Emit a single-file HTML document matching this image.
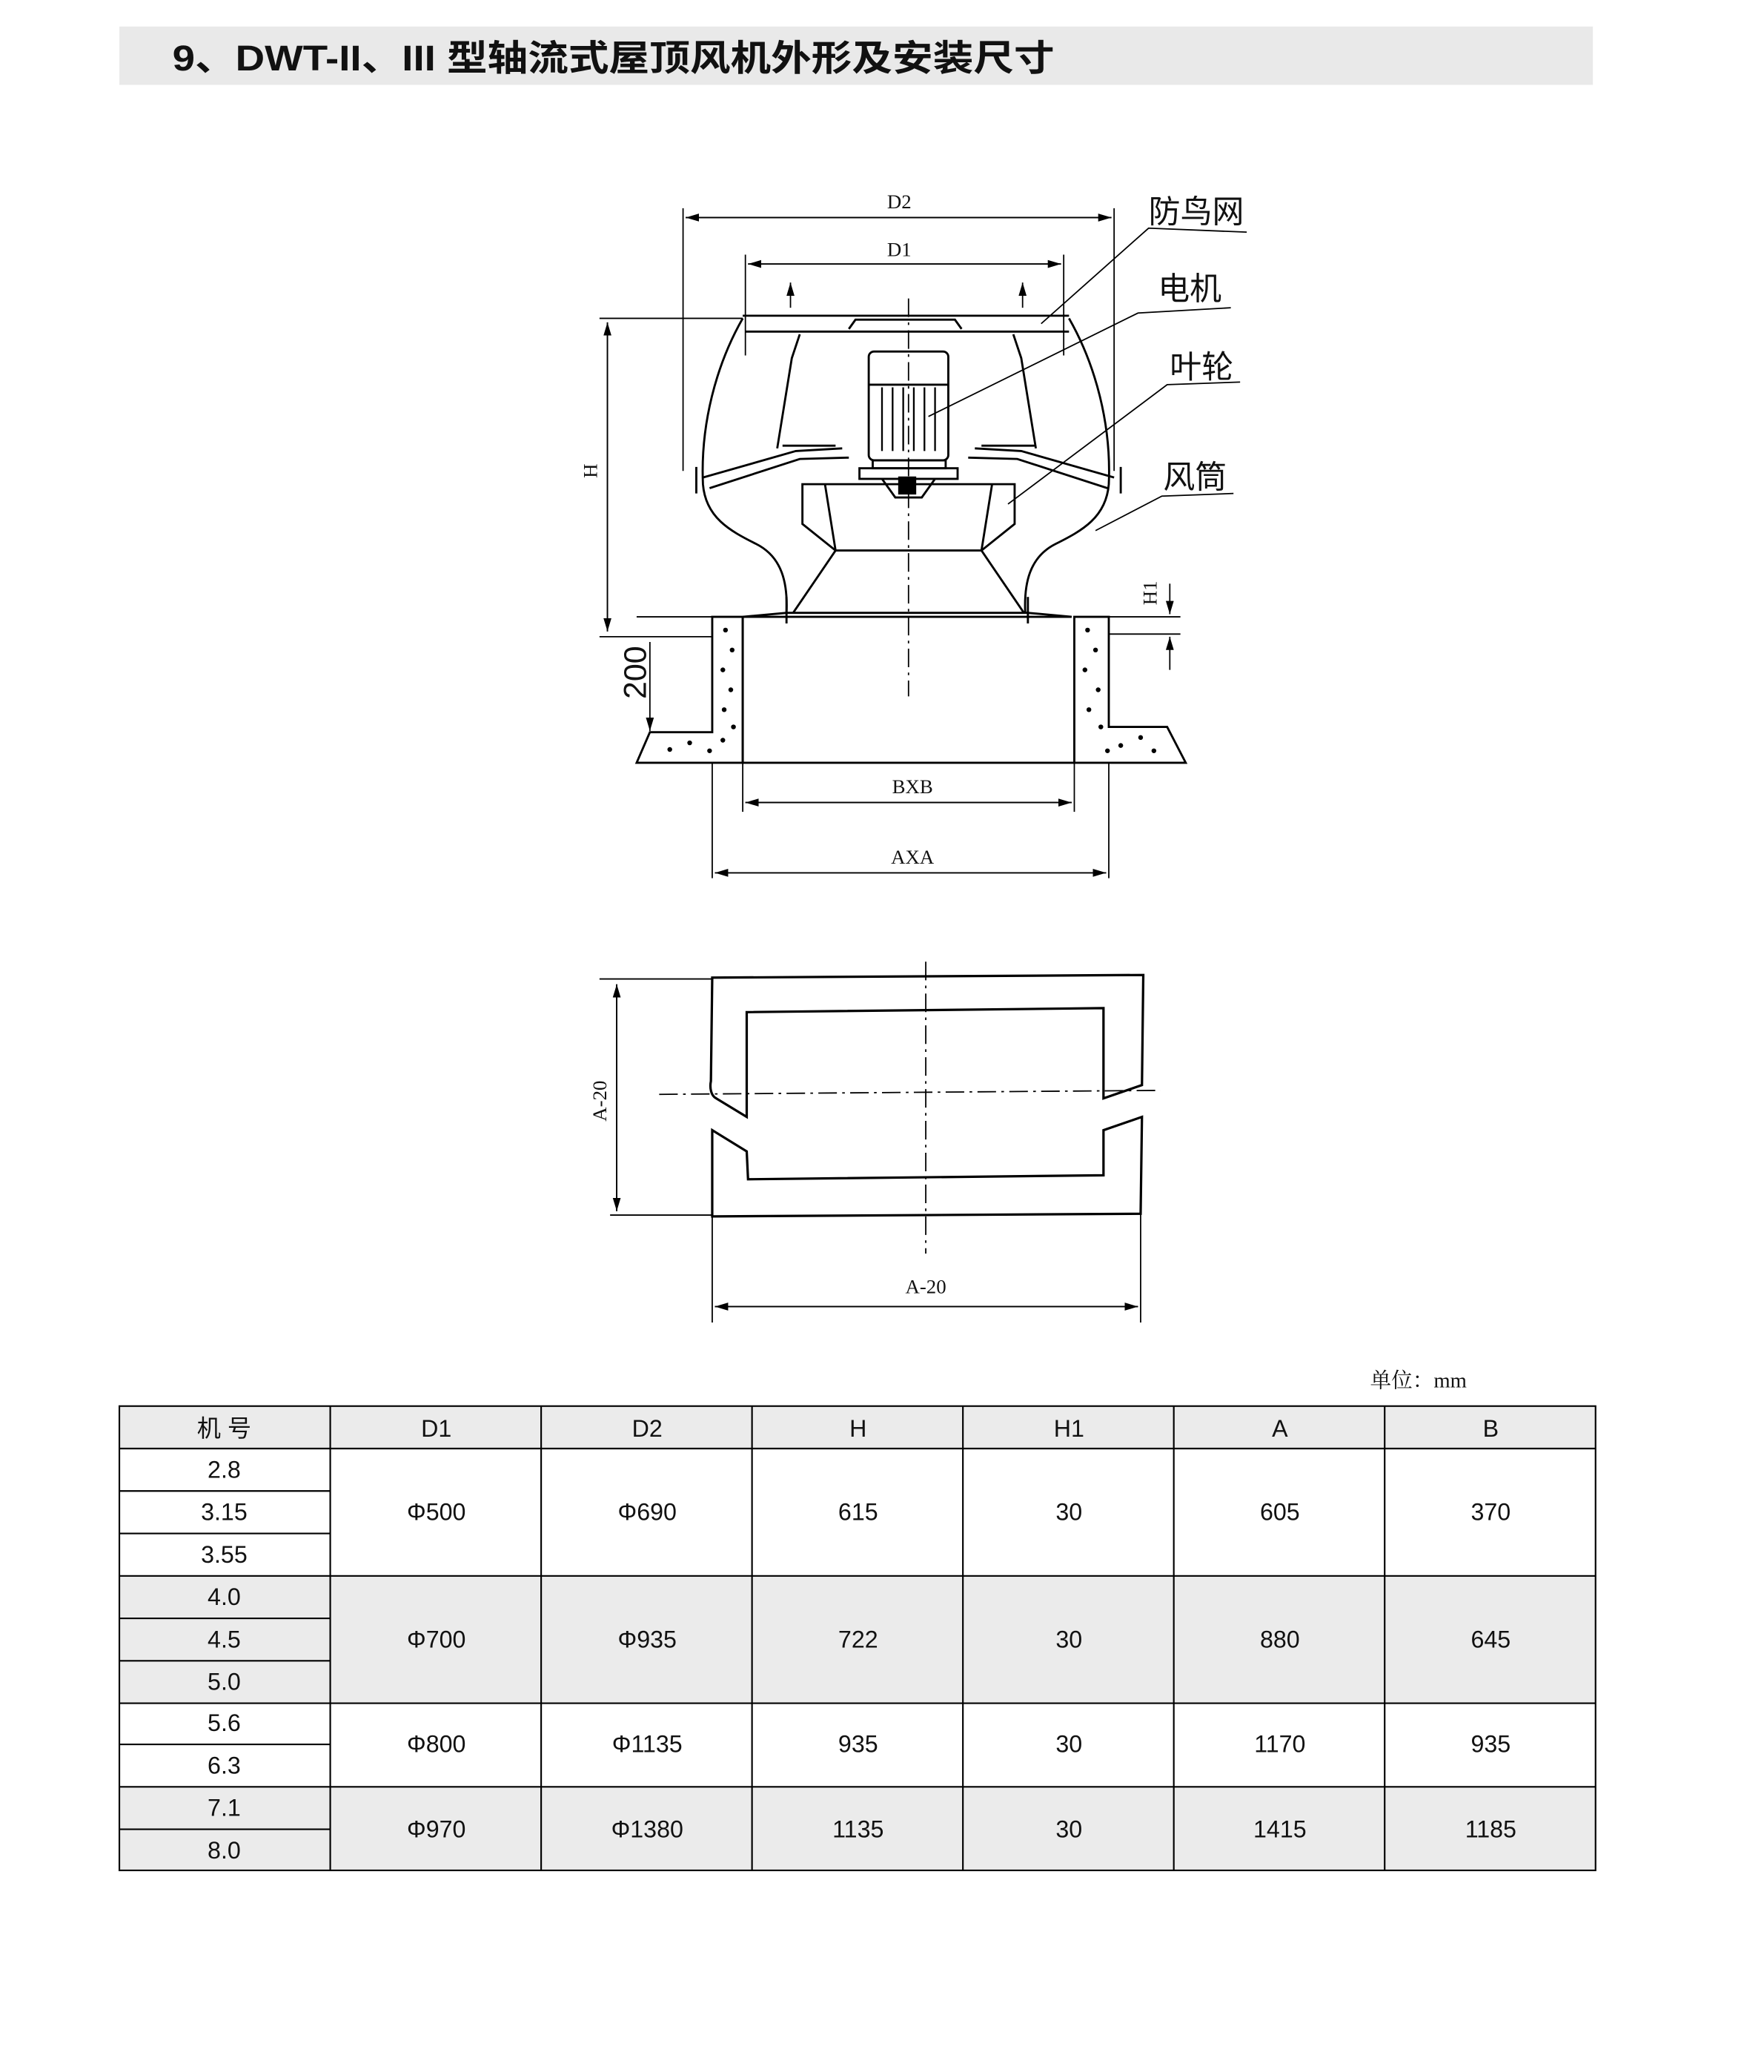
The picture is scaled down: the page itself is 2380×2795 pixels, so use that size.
<!DOCTYPE html>
<html><head><meta charset="utf-8"><style>
html,body{margin:0;padding:0;background:#fff;}
svg{display:block}
.cn{font-family:"Liberation Sans","Noto Sans CJK SC",sans-serif;}
.sr{font-family:"Liberation Serif","Noto Serif CJK SC",serif;}
</style></head><body>
<svg width="2380" height="2795" viewBox="0 0 1330 1562" preserveAspectRatio="none" xmlns="http://www.w3.org/2000/svg">
<defs>
<marker id="ar" markerWidth="10" markerHeight="6" refX="10" refY="3" orient="auto" markerUnits="userSpaceOnUse"><path d="M0,0 L10,3 L0,6 Z" fill="#000"/></marker>
</defs>
<rect x="90" y="20" width="1111" height="44" fill="#e9e9e9"/>
<text x="130" y="53" class="cn" font-size="27" font-weight="bold" fill="#111" textLength="665" lengthAdjust="spacingAndGlyphs">9、DWT-II、III 型轴流式屋顶风机外形及安装尺寸</text>

<g fill="none" stroke="#000" stroke-width="1.6">
<line x1="515" y1="157" x2="515" y2="355" stroke-width="1"/>
<line x1="840" y1="157" x2="840" y2="355" stroke-width="1"/>
<line x1="517" y1="164" x2="838" y2="164" stroke-width="1" marker-end="url(#ar)"/>
<line x1="838" y1="164" x2="517" y2="164" stroke-width="1" marker-end="url(#ar)"/>
<line x1="562" y1="192" x2="562" y2="268" stroke-width="1"/>
<line x1="802" y1="192" x2="802" y2="268" stroke-width="1"/>
<line x1="564" y1="199" x2="800" y2="199" stroke-width="1" marker-end="url(#ar)"/>
<line x1="800" y1="199" x2="564" y2="199" stroke-width="1" marker-end="url(#ar)"/>
<line x1="596" y1="232" x2="596" y2="213" stroke-width="1" marker-end="url(#ar)"/>
<line x1="771" y1="232" x2="771" y2="213" stroke-width="1" marker-end="url(#ar)"/>
<line x1="452" y1="240" x2="560" y2="240" stroke-width="1"/>
<line x1="458" y1="243" x2="458" y2="476" stroke-width="1" marker-end="url(#ar)"/>
<line x1="458" y1="476" x2="458" y2="243" stroke-width="1" marker-end="url(#ar)"/>
<line x1="452" y1="480" x2="537" y2="480" stroke-width="1"/>
<line x1="480" y1="465" x2="562" y2="465" stroke-width="1"/>
<line x1="490" y1="484" x2="490" y2="551" stroke-width="1" marker-end="url(#ar)"/>
<path d="M560,238 L806,238 M562,250 L806,250 M640,248 L645,241 L720,241 L725,248"/>
<path d="M560,240 C540,275 528,320 530,365 C532,390 550,400 570,410 C590,420 594,440 593,462"/>
<path d="M806,240 C826,275 838,320 836,365 C834,390 816,400 796,410 C776,420 772,440 773,462"/>
<path d="M593,462 L560,465 L808,465 L775,462 Z M593,462 L773,462"/>
<line x1="593" y1="450" x2="593" y2="470"/>
<line x1="775" y1="450" x2="775" y2="470"/>
<path d="M603,252 L597,270 L586,338 M764,252 L770,270 L781,338"/>
<rect x="655" y="265" width="60" height="82" rx="4"/>
<line x1="655" y1="290" x2="715" y2="290"/>
<path d="M665,292 V340 M673,292 V340 M681,292 V340 M689,292 V340 M697,292 V340 M705,292 V340" stroke-width="1.3"/>
<rect x="658" y="347" width="55" height="6"/>
<rect x="648" y="353" width="74" height="8"/>
<path d="M665,361 L675,375 L695,375 L705,361" />
<rect x="678" y="360" width="12" height="12" fill="#000"/>
<path d="M530,360 L600,340 L635,338 M535,368 L603,346 L640,345 M590,336 L630,336" />
<path d="M840,360 L770,340 L735,338 M835,368 L767,346 L730,345 M780,336 L740,336"/>
<path d="M525,352 V372 M845,352 V372"/>
<path d="M605,365 L765,365 L765,395 L740,415 L630,415 L605,395 Z M622,365 L630,415 M748,365 L740,415"/>
<path d="M630,415 L598,462 M740,415 L772,462"/>
<!-- curb -->
<path d="M560,465 L537,465 L537,552 L490,552 L480,575 L560,575 Z"/>
<path d="M560,465 V575"/>
<path d="M810,575 L810,465 L836,465 L836,548 L880,548 L894,575 Z"/>
<line x1="560" y1="575" x2="810" y2="575"/>
<line x1="537" y1="575" x2="537" y2="662" stroke-width="1"/>
<line x1="836" y1="575" x2="836" y2="662" stroke-width="1"/>
<line x1="560" y1="575" x2="560" y2="612" stroke-width="1"/>
<line x1="810" y1="575" x2="810" y2="612" stroke-width="1"/>
<line x1="562" y1="605" x2="808" y2="605" stroke-width="1" marker-end="url(#ar)"/>
<line x1="808" y1="605" x2="562" y2="605" stroke-width="1" marker-end="url(#ar)"/>
<line x1="539" y1="658" x2="834" y2="658" stroke-width="1" marker-end="url(#ar)"/>
<line x1="834" y1="658" x2="539" y2="658" stroke-width="1" marker-end="url(#ar)"/>
<line x1="836" y1="465" x2="890" y2="465" stroke-width="1"/>
<line x1="836" y1="478" x2="890" y2="478" stroke-width="1"/>
<line x1="882" y1="440" x2="882" y2="463" stroke-width="1" marker-end="url(#ar)"/>
<line x1="882" y1="505" x2="882" y2="480" stroke-width="1" marker-end="url(#ar)"/>
<path d="M940,175 L866,172 L785,244" stroke-width="1"/>
<path d="M928,232 L858,236 L700,314" stroke-width="1"/>
<path d="M935,288 L880,290 L760,380" stroke-width="1"/>
<path d="M930,372 L876,374 L826,400" stroke-width="1"/>
<line x1="685" y1="225" x2="685" y2="525" stroke-width="1" stroke-dasharray="14,4,2,4"/>
</g>
<g fill="#000">
<circle cx="547" cy="475" r="1.8"/><circle cx="552" cy="490" r="1.8"/><circle cx="545" cy="505" r="1.8"/><circle cx="551" cy="520" r="1.8"/><circle cx="546" cy="535" r="1.8"/><circle cx="553" cy="548" r="1.8"/><circle cx="505" cy="565" r="1.8"/><circle cx="520" cy="560" r="1.8"/><circle cx="535" cy="566" r="1.8"/><circle cx="545" cy="558" r="1.8"/>
<circle cx="820" cy="475" r="1.8"/><circle cx="826" cy="490" r="1.8"/><circle cx="818" cy="505" r="1.8"/><circle cx="828" cy="520" r="1.8"/><circle cx="821" cy="535" r="1.8"/><circle cx="830" cy="548" r="1.8"/><circle cx="845" cy="562" r="1.8"/><circle cx="860" cy="556" r="1.8"/><circle cx="870" cy="566" r="1.8"/><circle cx="835" cy="566" r="1.8"/>
</g>
<g class="sr" font-size="15" fill="#111" text-anchor="middle">
<text x="678" y="157">D2</text>
<text x="678" y="193">D1</text>
<text x="688" y="598">BXB</text>
<text x="688" y="651">AXA</text>
<text transform="translate(450,355) rotate(-90)">H</text>
<text transform="translate(872,447) rotate(-90)">H1</text>
<text transform="translate(457,830) rotate(-90)">A-20</text>
<text x="698" y="975">A-20</text>
</g>
<text transform="translate(487,527) rotate(-90)" class="cn" font-size="24" fill="#111">200</text>
<g class="cn" font-size="24" fill="#111">
<text x="866" y="168">防鸟网</text>
<text x="873" y="226">电机</text>
<text x="882" y="285">叶轮</text>
<text x="877" y="368">风筒</text>
</g>

<g fill="none" stroke="#000" stroke-width="1.8">
<path d="M537,737 L862,735 L861,818 L832,828 L832,760 L563,763 L563,842 L540,828 C536,826 535,820 536,815 Z"/>
<path d="M537,852 L563,868 L564,889 L832,886 L832,852 L861,842 L860,915 L537,917 Z"/>
</g>
<g stroke="#000" stroke-width="1" fill="none">
<line x1="452" y1="738" x2="537" y2="738"/>
<line x1="460" y1="916" x2="537" y2="916"/>
<line x1="465" y1="742" x2="465" y2="913" marker-end="url(#ar)"/>
<line x1="465" y1="913" x2="465" y2="742" marker-end="url(#ar)"/>
<line x1="537" y1="917" x2="537" y2="997"/>
<line x1="860" y1="915" x2="860" y2="997"/>
<line x1="539" y1="985" x2="858" y2="985" marker-end="url(#ar)"/>
<line x1="858" y1="985" x2="539" y2="985" marker-end="url(#ar)"/>
<line x1="698" y1="725" x2="698" y2="945" stroke-dasharray="14,4,2,4"/>
<line x1="497" y1="825" x2="875" y2="822" stroke-dasharray="14,4,2,4"/>
</g>
<text x="1033" y="1046" class="sr" font-size="16" fill="#111">单位：mm</text>

<g>
<rect x="90" y="1060" width="1113" height="32" fill="#ebebeb"/>
<rect x="90" y="1188" width="1113" height="96" fill="#ebebeb"/>
<rect x="90" y="1347" width="1113" height="63" fill="#ebebeb"/>
<g stroke="#000" stroke-width="1.2" fill="none">
<rect x="90" y="1060" width="1113" height="350"/>
<path d="M90,1092 H1203 M90,1188 H1203 M90,1284 H1203 M90,1347 H1203 M90,1124 H249 M90,1156 H249 M90,1220 H249 M90,1252 H249 M90,1315 H249 M90,1379 H249"/>
<path d="M249,1060 V1410 M408,1060 V1410 M567,1060 V1410 M726,1060 V1410 M885,1060 V1410 M1044,1060 V1410"/>
</g>
<g class="cn" font-size="18" fill="#111" text-anchor="middle">
<text x="169" y="1083">机 号</text><text x="329" y="1083">D1</text><text x="488" y="1083">D2</text><text x="647" y="1083">H</text><text x="806" y="1083">H1</text><text x="965" y="1083">A</text><text x="1124" y="1083">B</text>
<text x="169" y="1114">2.8</text><text x="169" y="1146">3.15</text><text x="169" y="1178">3.55</text>
<text x="169" y="1210">4.0</text><text x="169" y="1242">4.5</text><text x="169" y="1274">5.0</text>
<text x="169" y="1305">5.6</text><text x="169" y="1337">6.3</text>
<text x="169" y="1369">7.1</text><text x="169" y="1401">8.0</text>
<text x="329" y="1146">Φ500</text><text x="488" y="1146">Φ690</text><text x="647" y="1146">615</text><text x="806" y="1146">30</text><text x="965" y="1146">605</text><text x="1124" y="1146">370</text>
<text x="329" y="1242">Φ700</text><text x="488" y="1242">Φ935</text><text x="647" y="1242">722</text><text x="806" y="1242">30</text><text x="965" y="1242">880</text><text x="1124" y="1242">645</text>
<text x="329" y="1321">Φ800</text><text x="488" y="1321">Φ1135</text><text x="647" y="1321">935</text><text x="806" y="1321">30</text><text x="965" y="1321">1170</text><text x="1124" y="1321">935</text>
<text x="329" y="1385">Φ970</text><text x="488" y="1385">Φ1380</text><text x="647" y="1385">1135</text><text x="806" y="1385">30</text><text x="965" y="1385">1415</text><text x="1124" y="1385">1185</text>
</g>
</g>
</svg>
</body></html>
